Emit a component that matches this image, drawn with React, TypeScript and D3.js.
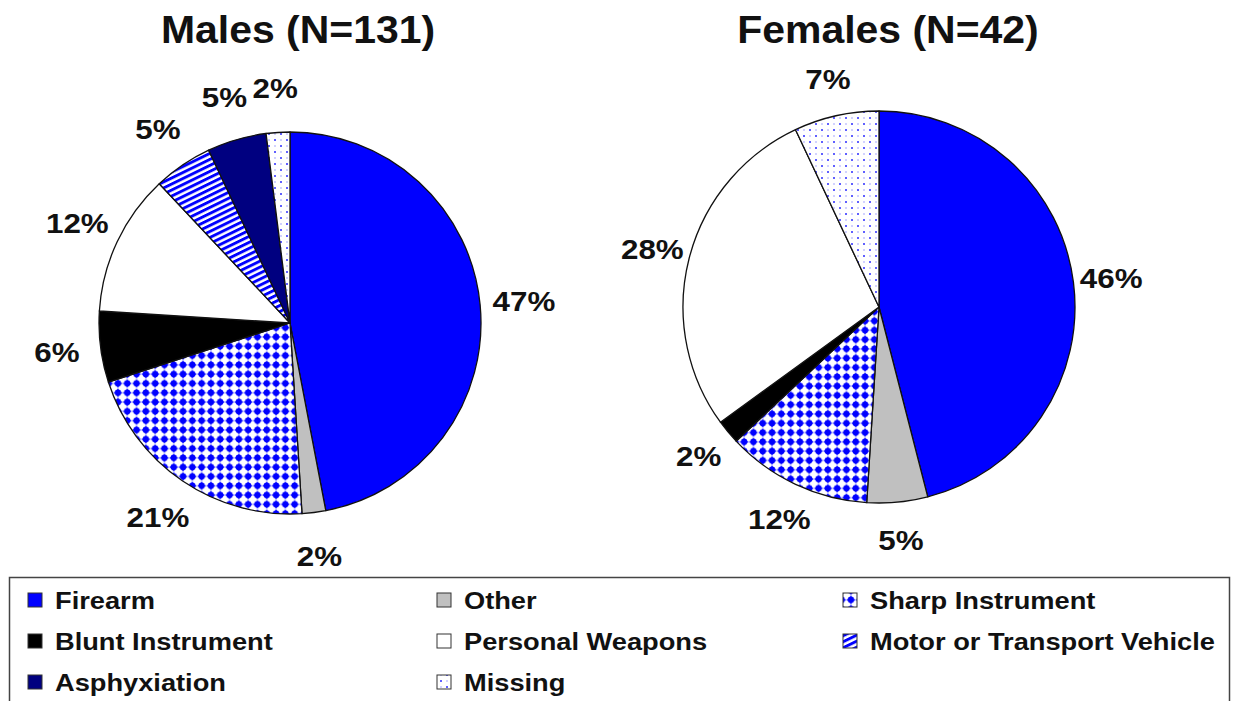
import React from "react";
import * as d3 from "d3";

const categories = [
  "Firearm",
  "Other",
  "Sharp Instrument",
  "Blunt Instrument",
  "Personal Weapons",
  "Motor or Transport Vehicle",
  "Asphyxiation",
  "Missing",
];
const maleValues = [47, 2, 21, 6, 12, 5, 5, 2];
const femaleValues = [46, 5, 12, 2, 28, 0, 0, 7];
const titles = ["Males (N=131)", "Females (N=42)"];
const legendOrder = [
  "Firearm",
  "Other",
  "Sharp Instrument",
  "Blunt Instrument",
  "Personal Weapons",
  "Motor or Transport Vehicle",
  "Asphyxiation",
  "Missing",
];

const fills: Record<string, string> = {
  Firearm: "#0000FF",
  Other: "#C0C0C0",
  "Sharp Instrument": "url(#pSharp)",
  "Blunt Instrument": "#000000",
  "Personal Weapons": "#FFFFFF",
  "Motor or Transport Vehicle": "url(#pMotor)",
  Asphyxiation: "#000080",
  Missing: "url(#pMissing)",
};

const W = 1233;
const H = 701;
const FONT = "'Liberation Sans', Arial, Helvetica, sans-serif";
const SX = 1.12;

function Pie({ values, cx, cy, r, labelGap, title, titleX }: { values: number[]; cx: number; cy: number; r: number; labelGap: number; title: string; titleX: number }) {
  const data = categories.map((c, i) => ({ c, v: values[i] }));
  const pie = d3.pie<{ c: string; v: number }>().value((d) => d.v).sort(null);
  const arcs = pie(data);
  const arc = d3.arc<d3.PieArcDatum<{ c: string; v: number }>>().innerRadius(0).outerRadius(r);
  const labelR = r + labelGap;
  return (
    <g>
      <text
        transform={`translate(${titleX},43) scale(1.05,1)`}
        textAnchor="middle"
        fontFamily={FONT}
        fontWeight="bold"
        fontSize={39}
        fill="#111"
      >
        {title}
      </text>
      <g transform={`translate(${cx},${cy})`}>
        {arcs
          .filter((a) => a.data.v > 0)
          .map((a) => (
            <path key={a.data.c} d={arc(a) || ""} fill={fills[a.data.c]} stroke="#111" strokeWidth={1.3} strokeLinejoin="round" />
          ))}
        {arcs
          .filter((a) => a.data.v > 0)
          .map((a) => {
            const mid = (a.startAngle + a.endAngle) / 2;
            const x = Math.sin(mid) * labelR;
            const y = -Math.cos(mid) * labelR;
            return (
              <text
                key={"l" + a.data.c}
                transform={`translate(${x},${y + 10}) scale(${SX},1)`}
                textAnchor="middle"
                fontFamily={FONT}
                fontSize={28}
                fontWeight="bold"
                fill="#111"
              >
                {`${a.data.v}%`}
              </text>
            );
          })}
      </g>
    </g>
  );
}

export default function App() {
  const colX = [28, 437, 843];
  const rowY = [600, 641, 682];
  return (
    <div style={{ position: "absolute", left: 0, top: 0 }}>
      <svg width={W} height={H} style={{ display: "block", background: "#fff" }}>
        <defs>
          <pattern id="pSharp" patternUnits="userSpaceOnUse" width={9.3} height={9.3}>
            <rect width={9.3} height={9.3} fill="#fff" />
            <circle cx={4.65} cy={4.65} r={3.2} fill="#0000FF" />
            <rect x={4.0} y={0.6} width={1.3} height={8.1} fill="#0000FF" />
            <rect x={0.6} y={4.0} width={8.1} height={1.3} fill="#0000FF" />
          </pattern>
          <pattern id="pMotor" patternUnits="userSpaceOnUse" width={20} height={5.4} patternTransform="rotate(-26)">
            <rect width={20} height={5.4} fill="#fff" />
            <rect y={0} width={20} height={2.9} fill="#0000FF" />
          </pattern>
          <pattern id="pMissing" patternUnits="userSpaceOnUse" width={12} height={12}>
            <rect width={12} height={12} fill="#fff" />
            <circle cx={3} cy={3} r={1} fill="#2a2aff" />
            <circle cx={9} cy={9} r={1} fill="#2a2aff" />
            <circle cx={9} cy={3} r={0.8} fill="#9a9aff" />
            <circle cx={3} cy={9} r={0.8} fill="#9a9aff" />
          </pattern>
        </defs>
        <Pie values={maleValues} cx={290} cy={323} r={191} labelGap={44} title={titles[0]} titleX={298} />
        <Pie values={femaleValues} cx={879} cy={307} r={196} labelGap={38} title={titles[1]} titleX={888} />
        <rect x={9.5} y={577.5} width={1220} height={140} fill="#fff" stroke="#444" strokeWidth={1.5} />
        {legendOrder.map((c, i) => {
          const x = colX[i % 3];
          const y = rowY[Math.floor(i / 3)];
          return (
            <g key={c}>
              <rect x={x} y={y - 7} width={14} height={14} fill={fills[c]} stroke="#333" strokeWidth={1} />
              <text
                transform={`translate(${x + 27},${y + 8.5}) scale(1.135,1)`}
                fontFamily={FONT}
                fontSize={24}
                fontWeight="bold"
                fill="#111"
              >
                {c}
              </text>
            </g>
          );
        })}
      </svg>
    </div>
  );
}
